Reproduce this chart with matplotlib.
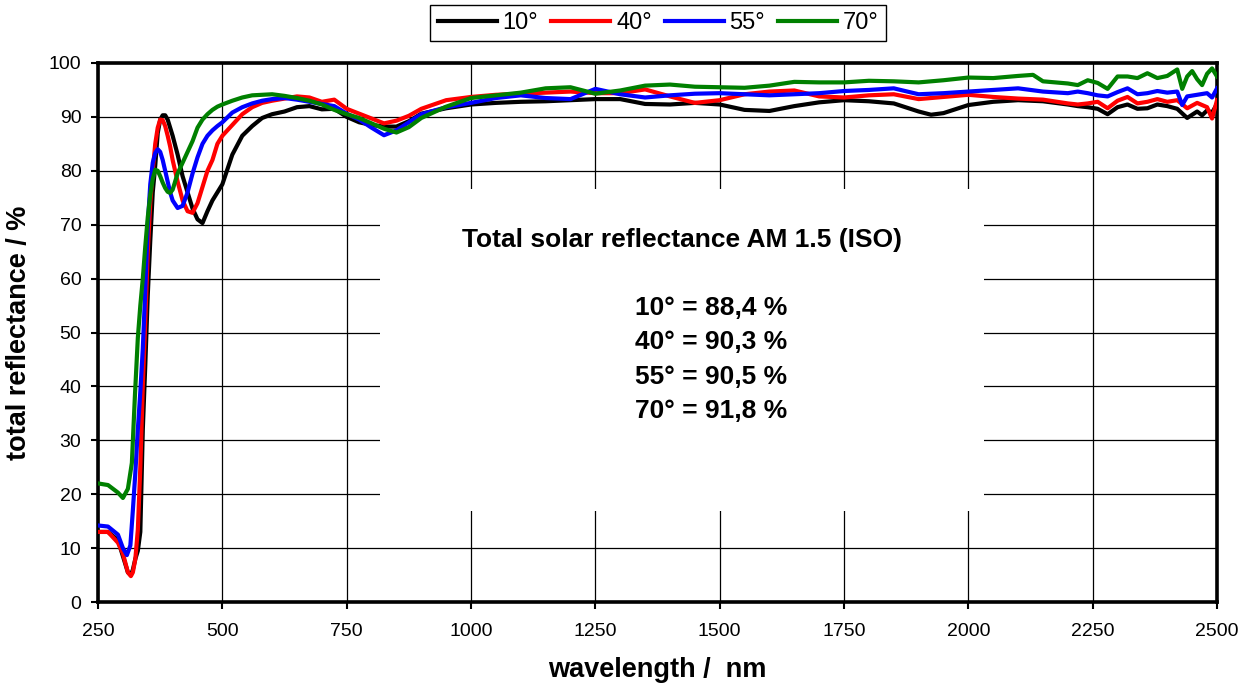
import matplotlib
matplotlib.use("Agg")
import matplotlib.pyplot as plt
from matplotlib.patches import Rectangle

plt.rcParams['font.family'] = ['Liberation Sans', 'DejaVu Sans']

# 10 deg
wl_10 = [250, 270, 290, 300, 310, 316, 320, 325, 330, 335, 340, 345, 350, 355, 360, 365, 370, 375, 380, 385,
         390, 395, 400, 410, 420, 430, 440, 450, 460, 470, 480, 490, 500, 520, 540, 560, 580, 600, 625, 650,
         675, 700, 725, 750, 775, 800, 825, 850, 875, 900, 950, 1000, 1050, 1100, 1150, 1200, 1250, 1300, 1350, 1400,
         1450, 1500, 1550, 1600, 1650, 1700, 1750, 1800, 1850, 1900, 1925, 1950, 2000, 2050, 2100, 2150, 2200, 2220, 2240, 2260,
         2280, 2300, 2320, 2340, 2360, 2380, 2400, 2420, 2440, 2460, 2470, 2480, 2490, 2500]
r_10 = [13, 13, 11.5, 8.5, 5.5, 5, 6, 8, 9.5, 13, 32, 44, 57, 67, 76, 81, 87, 89.5, 90.3, 90.3,
        89.5, 88, 86.5, 83, 79, 76, 73, 71, 70.3, 72.5, 74.5, 76, 77.5, 83, 86.5, 88.3, 89.8, 90.5, 91, 91.8,
        92, 91.4, 91.5, 90, 89, 88.5, 88.2, 88.2, 89.2, 90.6, 91.6, 92.3, 92.6, 92.8, 92.9, 93.1, 93.3, 93.3, 92.4, 92.3,
        92.6, 92.3, 91.3, 91.1, 92, 92.7, 93.1, 92.9, 92.5, 91.0, 90.4, 90.7, 92.2, 92.8, 93.1, 92.9, 92.3, 92, 91.8, 91.5,
        90.5, 91.8, 92.3, 91.5, 91.6, 92.3, 92.0, 91.5, 89.8, 91, 90.3, 91.2, 90.8, 92.4]

# 40 deg
wl_40 = [250, 270, 290, 300, 310, 316, 320, 325, 330, 335, 340, 345, 350, 355, 360, 365, 370, 375, 380, 385,
         390, 395, 400, 410, 420, 430, 440, 450, 460, 470, 480, 490, 500, 520, 540, 560, 580, 600, 625, 650,
         675, 700, 725, 750, 775, 800, 825, 850, 875, 900, 950, 1000, 1050, 1100, 1150, 1200, 1250, 1300, 1350, 1400,
         1450, 1500, 1550, 1600, 1650, 1700, 1750, 1800, 1850, 1900, 1950, 2000, 2050, 2100, 2150, 2200, 2220, 2240, 2260, 2280,
         2300, 2320, 2340, 2360, 2380, 2400, 2420, 2440, 2460, 2470, 2480, 2490, 2500]
r_40 = [13, 13, 11, 9, 5.5, 4.8, 5.5, 8, 13.4, 25, 40, 52, 65, 74, 80, 85, 88, 89.5, 89.4, 88.3,
        86.5, 84.5, 82, 78, 74.5, 72.5, 72.2, 74, 77, 80, 82, 85, 86.5, 88.5, 90.5, 91.8, 92.6, 93, 93.4, 93.8,
        93.6, 92.8, 93.2, 91.5, 90.6, 89.7, 88.8, 89.3, 90.2, 91.5, 93.1, 93.7, 94.1, 94.3, 94.5, 94.7, 94.4, 94.4, 95.1, 93.8,
        92.6, 93.1, 94.2, 94.7, 94.9, 93.8, 93.6, 94.0, 94.2, 93.3, 93.7, 94.1, 93.7, 93.4, 93.2, 92.5, 92.3, 92.5, 92.8, 91.6,
        93.0, 93.7, 92.5, 92.8, 93.3, 92.8, 93.1, 91.6, 92.6, 92.2, 91.8, 89.7, 93.1]

# 55 deg
wl_55 = [250, 270, 290, 300, 308, 315, 320, 325, 330, 335, 340, 345, 350, 355, 360, 365, 370, 375, 380, 385,
         390, 395, 400, 410, 420, 430, 440, 450, 460, 470, 480, 490, 500, 520, 540, 560, 580, 600, 625, 650,
         675, 700, 725, 750, 775, 800, 825, 850, 875, 900, 950, 1000, 1050, 1100, 1150, 1200, 1250, 1300, 1350, 1400,
         1450, 1500, 1550, 1600, 1650, 1700, 1750, 1800, 1850, 1900, 1950, 2000, 2050, 2100, 2150, 2200, 2220, 2240, 2260, 2280,
         2300, 2320, 2340, 2360, 2380, 2400, 2420, 2430, 2440, 2460, 2480, 2490, 2500]
r_55 = [14.2, 14, 12.5, 10, 8.7, 10.5, 17, 24, 32, 39, 47, 58, 70, 77.5, 81.5, 83.3, 84, 83.5, 82, 80,
        78, 76, 74.5, 73.1, 73.5, 76, 79.5, 82.5, 85, 86.5, 87.5, 88.3, 89, 90.8, 91.8, 92.5, 93, 93.3, 93.5, 93.2,
        92.8, 92.4, 92, 90.6, 89.5, 88, 86.6, 87.5, 89, 90.5, 91.8, 92.6, 93.5, 94, 93.5, 93.3, 95.2, 94.2, 93.6, 94,
        94.3, 94.4, 94.2, 94, 94.2, 94.4, 94.8, 95, 95.3, 94.2, 94.4, 94.7, 95, 95.3, 94.7, 94.4, 94.7, 94.4, 94, 93.8,
        94.6, 95.3, 94.2, 94.4, 94.8, 94.5, 94.7, 92.2, 93.8, 94.1, 94.4, 93.6, 95.3]

# 70 deg
wl_70 = [250, 270, 290, 300, 310, 318, 324, 330, 335, 340, 345, 350, 355, 360, 365, 370, 375, 380, 385,
         390, 395, 400, 410, 420, 430, 440, 450, 460, 470, 480, 490, 500, 520, 540, 560, 580, 600, 625, 650,
         675, 700, 725, 750, 775, 800, 825, 850, 875, 900, 950, 1000, 1050, 1100, 1150, 1200, 1250, 1300, 1350, 1400,
         1450, 1500, 1550, 1600, 1650, 1700, 1750, 1800, 1850, 1900, 1950, 2000, 2050, 2100, 2130, 2150, 2200, 2220, 2240, 2260,
         2280, 2300, 2320, 2340, 2360, 2380, 2400, 2420, 2430, 2440, 2450, 2460, 2470, 2480, 2490, 2500]
r_70 = [22, 21.7, 20.3, 19.3, 21, 25.8, 38, 49, 55, 60, 66, 71.4, 75.5, 78.5, 80.2, 80, 79, 77.8, 76.8,
        76.1, 75.9, 76.5, 79.5, 81.5, 83.5, 85.5, 88, 89.5, 90.5, 91.3, 91.9, 92.3, 93, 93.6, 94, 94.1, 94.2, 93.9, 93.5,
        93, 92.3, 91.3, 90.5, 89.8, 88.8, 87.8, 87.1, 88.1, 89.8, 91.9, 93.5, 94, 94.5, 95.3, 95.5, 94.3, 94.9, 95.8, 96,
        95.6, 95.5, 95.4, 95.8, 96.5, 96.4, 96.4, 96.7, 96.6, 96.4, 96.8, 97.3, 97.2, 97.6, 97.8, 96.6, 96.2, 95.9, 96.8, 96.3,
        95.2, 97.5, 97.5, 97.2, 98.1, 97.2, 97.6, 98.8, 95.2, 97.5, 98.5, 97, 95.9, 98, 99, 97.5]

labels = ['10°', '40°', '55°', '70°']
colors = ['black', 'red', 'blue', 'green']
title_text = 'Total solar reflectance AM 1.5 (ISO)'
tsr_lines = ['10° = 88,4 %', '40° = 90,3 %', '55° = 90,5 %', '70° = 91,8 %']

fig = plt.figure(figsize=(12.49, 6.93), dpi=100)
ax = fig.add_axes([0.0785, 0.1313, 0.8959, 0.7778])

for w, r, lab, c in zip([wl_10, wl_40, wl_55, wl_70], [r_10, r_40, r_55, r_70], labels, colors):
    ax.plot(w, r, color=c, lw=3, label=lab, zorder=3, solid_joinstyle='round')

ax.set_xlim(250, 2500)
ax.set_ylim(0, 100)
ax.set_xticks(range(250, 2501, 250))
ax.set_yticks(range(0, 101, 10))
ax.grid(True, color='black', lw=0.9, zorder=0)
ax.set_axisbelow(True)

# white text box covering the grid
ax.add_patch(Rectangle((817, 16.9), 1214, 59.7, facecolor='white', edgecolor='none', zorder=1))
ax.text(1424, 67.2, title_text, ha='center', va='center', fontsize=19, fontweight='bold', zorder=4)
for i, line in enumerate(tsr_lines):
    ax.text(1482, 54.5 - i * 6.35, line, ha='center', va='center', fontsize=19, fontweight='bold', zorder=4)

for s in ax.spines.values():
    s.set_linewidth(2.6)
    s.set_color('black')
ax.tick_params(direction='out', length=5, width=1.5, labelsize=14)
ax.tick_params(axis='x', pad=10)
ax.tick_params(axis='y', pad=7)

ax.set_xlabel('wavelength /  nm', fontsize=19.5, fontweight='bold', labelpad=12)
ax.set_ylabel('total reflectance / %', fontsize=19.5, fontweight='bold', labelpad=12)

fig.legend(loc='upper center', bbox_to_anchor=(0.527, 0.993), ncol=4, fontsize=17,
           frameon=True, fancybox=False, edgecolor='black', framealpha=1, borderaxespad=0,
           handlelength=2.5, handletextpad=0.25, columnspacing=0.55, borderpad=0.3)

plt.savefig('out.png', dpi=100)
